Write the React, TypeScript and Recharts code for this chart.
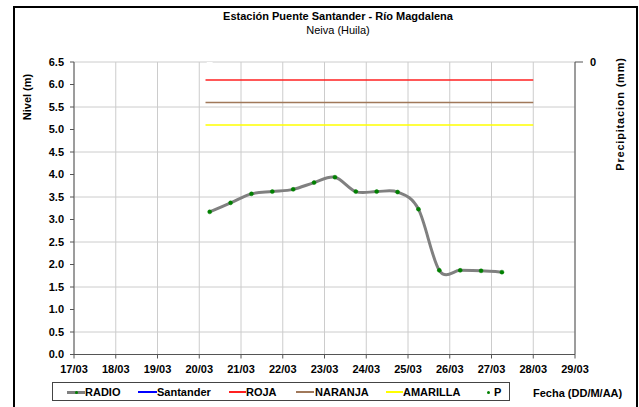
import React from 'react';
import { LineChart, Line, XAxis, YAxis, CartesianGrid } from 'recharts';

// fechas del eje X (días desde 17/03)
const fechas = ['17/03', '18/03', '19/03', '20/03', '21/03', '22/03', '23/03', '24/03', '25/03', '26/03', '27/03', '28/03', '29/03'];
const diasTicks = [0, 1, 2, 3, 4, 5, 6, 7, 8, 9, 10, 11, 12];
const nivelTicks = [0, 0.5, 1, 1.5, 2, 2.5, 3, 3.5, 4, 4.5, 5, 5.5, 6, 6.5];
const precipTicks = [0];

// lecturas RADIO cada 12 h
const radioDias = [3.25, 3.75, 4.25, 4.75, 5.25, 5.75, 6.25, 6.75, 7.25, 7.75, 8.25, 8.75, 9.25, 9.75, 10.25];
const radioNivel = [3.17, 3.37, 3.57, 3.62, 3.67, 3.82, 3.94, 3.62, 3.62, 3.61, 3.23, 1.87, 1.87, 1.86, 1.83];

// precipitación P (sin lluvia registrada)
const precipDias = [3.25];
const precipMm = [0];

// umbrales de alerta
const umbralDias = [3.15, 11];
const nivelRoja = 6.1;
const nivelNaranja = 5.6;
const nivelAmarilla = 5.1;

const radioData = radioDias.map((d, i) => ({ x: d, y: radioNivel[i] }));
const precipData = precipDias.map((d, i) => ({ x: d, p: precipMm[i] }));
const rojaData = umbralDias.map(d => ({ x: d, y: nivelRoja }));
const naranjaData = umbralDias.map(d => ({ x: d, y: nivelNaranja }));
const amarillaData = umbralDias.map(d => ({ x: d, y: nivelAmarilla }));

const FONT = '"Liberation Sans", Arial, sans-serif';

// suavizado tipo Excel (Catmull-Rom)
function bez(t: any, x: number, y: number) {
  t._context.bezierCurveTo(
    t._x1 + t._k * (t._x2 - t._x0),
    t._y1 + t._k * (t._y2 - t._y0),
    t._x2 + t._k * (t._x1 - x),
    t._y2 + t._k * (t._y1 - y),
    t._x2, t._y2
  );
}
class Suave {
  _context: any; _k: number; _line: number = NaN; _point = 0;
  _x0 = NaN; _x1 = NaN; _x2 = NaN; _y0 = NaN; _y1 = NaN; _y2 = NaN;
  constructor(context: any) { this._context = context; this._k = 1 / 6; }
  areaStart() { this._line = 0; }
  areaEnd() { this._line = NaN; }
  lineStart() {
    this._x0 = this._x1 = this._x2 = this._y0 = this._y1 = this._y2 = NaN;
    this._point = 0;
  }
  lineEnd() {
    switch (this._point) {
      case 2: this._context.lineTo(this._x2, this._y2); break;
      case 3: bez(this, this._x1, this._y1); break;
    }
    if (this._line || (this._line !== 0 && this._point === 1)) this._context.closePath();
    this._line = 1 - this._line;
  }
  point(x: number, y: number) {
    x = +x; y = +y;
    switch (this._point) {
      case 0: this._point = 1; this._line ? this._context.lineTo(x, y) : this._context.moveTo(x, y); break;
      case 1: this._point = 2; this._x1 = x; this._y1 = y; break;
      case 2: this._point = 3; bez(this, x, y); break;
      default: bez(this, x, y); break;
    }
    this._x0 = this._x1; this._x1 = this._x2; this._x2 = x;
    this._y0 = this._y1; this._y1 = this._y2; this._y2 = y;
  }
}
const curvaSuave: any = (context: any) => new Suave(context);

const tickStyle = { fontSize: 11, fontWeight: 700, fill: '#000', fontFamily: FONT };

const legendItems = [
  { name: 'RADIO', color: '#808080', x: 67, w: 18, tx: 85, dot: true },
  { name: 'Santander', color: '#0000ff', x: 138, w: 19, tx: 157 },
  { name: 'ROJA', color: '#ff2020', x: 229, w: 17, tx: 246 },
  { name: 'NARANJA', color: '#a0785a', x: 296, w: 18, tx: 315 },
  { name: 'AMARILLA', color: '#ffff00', x: 386, w: 17, tx: 403 },
];

export default function App() {
  return (
    <div style={{ position: 'absolute', left: 0, top: 0, width: 639, height: 407, background: '#fff', overflow: 'hidden', fontFamily: FONT }}>
      <div style={{ position: 'absolute', left: 13, top: 6, width: 621, height: 420, border: '2px solid #000' }} />
      <div style={{ position: 'absolute', left: 0, top: 10, width: 676, textAlign: 'center', fontSize: 11, fontWeight: 700 }}>
        Estación Puente Santander - Río Magdalena
      </div>
      <div style={{ position: 'absolute', left: 0, top: 24, width: 676, textAlign: 'center', fontSize: 11 }}>
        Neiva (Huila)
      </div>
      <LineChart width={639} height={407} margin={{ top: 62, right: 14, bottom: 30.5, left: 14 }} style={{ position: 'absolute', left: 0, top: 0 }}>
        <CartesianGrid yAxisId="left" stroke="#cccccc" strokeWidth={1} />
        <XAxis
          dataKey="x"
          type="number"
          domain={[0, 12]}
          ticks={diasTicks}
          tickFormatter={(v: number) => fechas[v]}
          tick={tickStyle}
          tickSize={4}
          tickMargin={7}
          height={22}
          stroke="#555"
          allowDataOverflow
          label={{
            content: () => (
              <text x={533} y={397} fontSize={11} fontWeight={700} fontFamily={FONT} fill="#000">Fecha (DD/M/AA)</text>
            ),
          }}
        />
        <YAxis
          yAxisId="left"
          type="number"
          domain={[0, 6.5]}
          ticks={nivelTicks}
          tickFormatter={(v: number) => v.toFixed(1)}
          tick={tickStyle}
          tickSize={4}
          tickMargin={6}
          width={60}
          stroke="#555"
          allowDataOverflow
          label={{
            content: () => (
              <text x={0} y={0} transform="translate(31,97) rotate(-90)" textAnchor="middle" fontSize={11} fontWeight={700} fontFamily={FONT} fill="#000">Nivel (m)</text>
            ),
          }}
        />
        <YAxis
          yAxisId="right"
          orientation="right"
          type="number"
          dataKey="p"
          domain={[0, 10]}
          reversed
          ticks={precipTicks}
          interval={0}
          tick={tickStyle}
          tickSize={8}
          tickMargin={7}
          width={50}
          stroke="#555"
          allowDataOverflow
          label={{
            content: () => (
              <text x={0} y={0} transform="translate(624,114) rotate(-90)" textAnchor="middle" fontSize={11} fontWeight={700} fontFamily={FONT} letterSpacing={0.8} fill="#000">Precipitacion (mm)</text>
            ),
          }}
        />
        <Line yAxisId="left" data={rojaData} dataKey="y" name="ROJA" stroke="#ff2020" strokeWidth={1.5} dot={false} isAnimationActive={false} />
        <Line yAxisId="left" data={naranjaData} dataKey="y" name="NARANJA" stroke="#a0785a" strokeWidth={1.5} dot={false} isAnimationActive={false} />
        <Line yAxisId="left" data={amarillaData} dataKey="y" name="AMARILLA" stroke="#ffff00" strokeWidth={1.5} dot={false} isAnimationActive={false} />
        <Line yAxisId="right" data={precipData} dataKey="p" name="P" stroke="none" dot={false} isAnimationActive={false} />
        <Line
          yAxisId="left"
          data={radioData}
          dataKey="y"
          name="RADIO"
          type={curvaSuave}
          stroke="#808080"
          strokeWidth={3}
          dot={{ r: 2, fill: '#008000', stroke: '#008000', strokeWidth: 0.5 }}
          isAnimationActive={false}
        />
      </LineChart>
      <div style={{ position: 'absolute', left: 52, top: 382, width: 458, height: 19, border: '1px solid #444', boxSizing: 'border-box' }} />
      {legendItems.map(it => (
        <React.Fragment key={it.name}>
          <div style={{ position: 'absolute', left: it.x, top: 391, width: it.w, height: it.name === 'RADIO' ? 3 : 2, background: it.color }} />
          {it.dot && <div style={{ position: 'absolute', left: it.x + it.w / 2 - 1.5, top: 391, width: 3, height: 3, borderRadius: 2, background: '#008000' }} />}
          <div style={{ position: 'absolute', left: it.tx, top: 385, fontSize: 11, fontWeight: 700, lineHeight: '14px' }}>{it.name}</div>
        </React.Fragment>
      ))}
      <div style={{ position: 'absolute', left: 487, top: 391, width: 3, height: 3, borderRadius: 2, background: '#008000' }} />
      <div style={{ position: 'absolute', left: 494, top: 385, fontSize: 11, fontWeight: 700, lineHeight: '14px' }}>P</div>
    </div>
  );
}
